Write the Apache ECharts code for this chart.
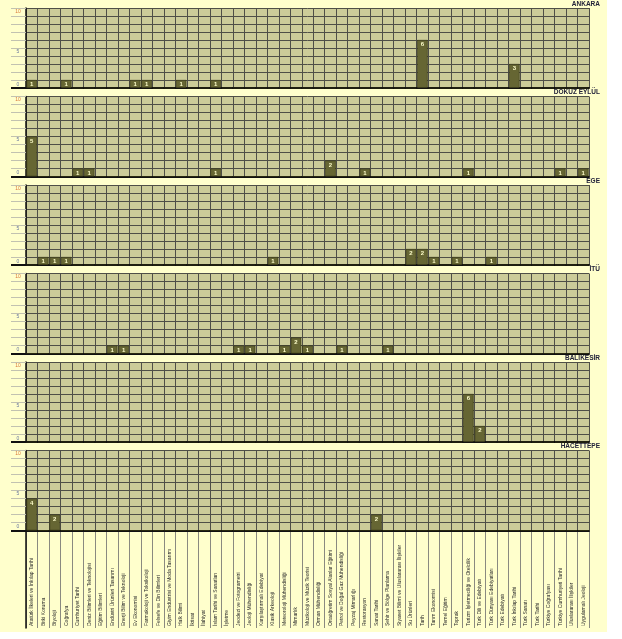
<!DOCTYPE html>
<html>
<head>
<meta charset="utf-8">
<script src="https://cdn.jsdelivr.net/npm/echarts@6/dist/echarts.min.js"></script>
<style>
  html, body { margin: 0; padding: 0; background: #ffffff; }
  #chart { width: 607px; height: 632px; }
</style>
</head>
<body>
<div id="chart"></div>
<script>
// bölümler (x ekseni)
const categories = [
  'Atatürk İlkeleri ve İnkılap Tarihi', 'Bitki Koruma', 'Biyoloji', 'Coğrafya',
  'Cumhuriyet Tarihi', 'Deniz Bilimleri ve Teknolojisi', 'Eğitim Bilimleri',
  'Endüstri Ürünleri Tasarımı', 'Enerji Bilim ve Teknoloji', 'Ev Ekonomisi',
  'Farmakoloji ve Toksikoloji', 'Felsefe ve Din Bilimleri',
  'Giyim Endüstrisi ve Moda Tasarımı', 'Halk Bilimi', 'İktisat', 'İlahiyat',
  'İslam Tarihi ve Sanatları', 'İşletme', 'Jeodezi ve Fotogrametri',
  'Jeoloji Mühendisliği', 'Karşılaştırmalı Edebiyat', 'Klasik Arkeoloji',
  'Meteoroloji Mühendisliği', 'Mimarlık', 'Müzikoloji ve Müzik Teorisi',
  'Orman Mühendisliği', 'Ortaöğretim Sosyal Alanlar Eğitimi',
  'Petrol ve Doğal Gaz Mühendisliği', 'Peyzaj Mimarlığı', 'Restorasyon',
  'Sanat Tarihi', 'Şehir ve Bölge Planlama',
  'Siyaset Bilimi ve Uluslararası İlişkiler', 'Su Ürünleri', 'Tarih',
  'Tarım Ekonomisi', 'Temel Eğitim', 'Toprak',
  'Turizm İşletmeciliği ve Otelcilik', 'Türk Dili ve Edebiyatı',
  'Türk Dünyası Edebiyatları', 'Türk Edebiyatı', 'Türk İnkılap Tarihi',
  'Türk Sanatı', 'Türk Tarihi', 'Türkiye Coğrafyası',
  'Türkiye Cumhuriyeti Tarihi', 'Uluslararası İlişkiler', 'Uygulamalı Jeoloji'
];

const panelNames = ['ANKARA', 'DOKUZ EYLÜL', 'EGE', 'İTÜ', 'BALIKESİR', 'HACETTEPE'];

const ankara     = [1,0,0,1,0,0,0,0,0,1, 1,0,0,1,0,0,1,0,0,0, 0,0,0,0,0,0,0,0,0,0, 0,0,0,0,6,0,0,0,0,0, 0,0,3,0,0,0,0,0,0];
const dokuzEylul = [5,0,0,0,1,1,0,0,0,0, 0,0,0,0,0,0,1,0,0,0, 0,0,0,0,0,0,2,0,0,1, 0,0,0,0,0,0,0,0,1,0, 0,0,0,0,0,0,1,0,1];
const ege        = [0,1,1,1,0,0,0,0,0,0, 0,0,0,0,0,0,0,0,0,0, 0,1,0,0,0,0,0,0,0,0, 0,0,0,2,2,1,0,1,0,0, 1,0,0,0,0,0,0,0,0];
const itu        = [0,0,0,0,0,0,0,1,1,0, 0,0,0,0,0,0,0,0,1,1, 0,0,1,2,1,0,0,1,0,0, 0,1,0,0,0,0,0,0,0,0, 0,0,0,0,0,0,0,0,0];
const balikesir  = [0,0,0,0,0,0,0,0,0,0, 0,0,0,0,0,0,0,0,0,0, 0,0,0,0,0,0,0,0,0,0, 0,0,0,0,0,0,0,0,6,2, 0,0,0,0,0,0,0,0,0];
const hacettepe  = [4,0,2,0,0,0,0,0,0,0, 0,0,0,0,0,0,0,0,0,0, 0,0,0,0,0,0,0,0,0,0, 2,0,0,0,0,0,0,0,0,0, 0,0,0,0,0,0,0,0,0];

const yTickLabels = [0, 5, 10];

const panels = [ankara, dokuzEylul, ege, itu, balikesir, hacettepe];

const gridLeft = 26, gridRight = 18;
const firstTop = 8, panelH = 80, panelStep = 88.5;
const lineColor = '#4f4f47';
const font = 'Liberation Sans';

const grids = [], xAxes = [], yAxes = [], series = [], titles = [];

panels.forEach(function (values, i) {
  const top = firstTop + panelStep * i;
  grids.push({
    left: gridLeft, right: gridRight, top: top, height: panelH,
    show: true, backgroundColor: '#CCCC99', borderWidth: 0
  });
  titles.push({
    text: panelNames[i], right: 7, top: top - 7.5, padding: 0,
    textStyle: { fontSize: 6.5, fontWeight: 'bold', color: '#22223a', fontFamily: font }
  });
  xAxes.push({
    type: 'category', gridIndex: i, data: categories,
    axisLine: { lineStyle: { color: '#111', width: 2 } },
    axisTick: { show: false, interval: 0 },
    axisLabel: { show: false, interval: 0 },
    splitLine: { show: true, interval: 0, lineStyle: { color: lineColor, width: 1 } }
  });
  // ana eksen
  yAxes.push({
    type: 'value', gridIndex: i, min: 0, max: 10, interval: 1,
    axisLine: { show: true, lineStyle: { color: '#111', width: 1.5 } },
    axisTick: { show: true, length: 15, lineStyle: { color: '#c2c2b0' } },
    axisLabel: {
      fontSize: 5, fontFamily: font, align: 'center', margin: 8,
      verticalAlign: 'top', verticalAlignMinLabel: 'bottom', padding: [1, 0, 1, 0],
      formatter: function (v) { return yTickLabels.indexOf(v) >= 0 ? String(v) : ''; },
      color: function (v) { return Number(v) === 10 ? '#d9783a' : '#6a78a0'; }
    },
    splitLine: { show: true, lineStyle: { color: lineColor, width: 1 } }
  });
  // sıfır çizgisinin sola uzantısı
  yAxes.push({
    type: 'value', gridIndex: i, min: 0, max: 10, position: 'left',
    axisLine: { show: false },
    axisLabel: { show: false },
    splitLine: { show: false },
    axisTick: { show: true, length: 15, customValues: [0], lineStyle: { color: '#111', width: 2 } }
  });
  series.push({
    type: 'bar', xAxisIndex: i, yAxisIndex: 2 * i, data: values,
    barCategoryGap: '8%', silent: true,
    itemStyle: { color: '#666633', borderColor: '#2f2f10', borderWidth: 0.6 },
    label: {
      show: true, position: 'insideTop', distance: 1.5,
      fontSize: 6, fontWeight: 'bold', fontFamily: font, color: '#ffffcc',
      formatter: function (p) { return p.value ? String(p.value) : ''; }
    }
  });
});

// alt kısımdaki bölüm adları
const labelTop = firstTop + panelStep * 5 + panelH + 0.5;
grids.push({ left: gridLeft, right: gridRight, top: labelTop, bottom: 4 });
xAxes.push({
  type: 'category', gridIndex: 6, data: categories,
  axisLine: { show: false },
  axisTick: { show: false, interval: 0 },
  axisLabel: {
    interval: 0, inside: true, rotate: 90, margin: 2,
    fontSize: 5, fontFamily: font, color: '#2a2a2a'
  },
  splitLine: { show: true, interval: 0, lineStyle: { color: '#8a8a80', width: 1 } }
});
yAxes.push({
  type: 'value', gridIndex: 6, min: 0, max: 1,
  axisLine: { show: true, lineStyle: { color: '#111', width: 1.5 } },
  axisLabel: { show: false }, axisTick: { show: false }, splitLine: { show: false }
});

const chart = echarts.init(document.getElementById('chart'));
chart.setOption({
  backgroundColor: '#FFFFCC',
  animation: false,
  title: titles,
  grid: grids,
  xAxis: xAxes,
  yAxis: yAxes,
  series: series
});
</script>
</body>
</html>
